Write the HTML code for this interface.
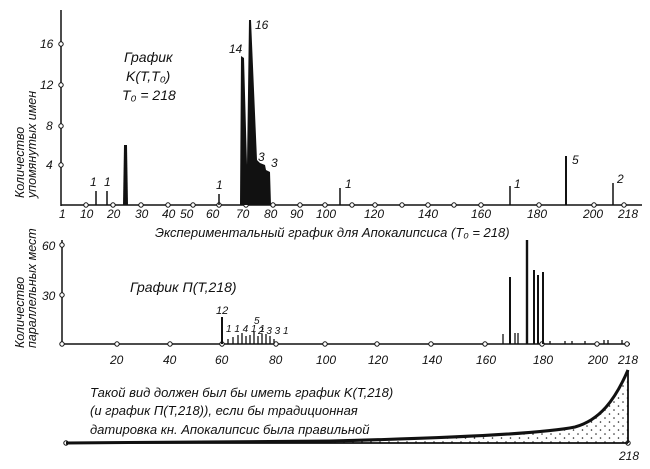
<!DOCTYPE html>
<html><head><meta charset="utf-8"><style>
html,body{margin:0;padding:0;background:#fff;}
svg text{font-family:"Liberation Sans",sans-serif;font-style:italic;fill:#111;}
</style></head><body>
<svg width="650" height="464" viewBox="0 0 650 464" xmlns="http://www.w3.org/2000/svg">
<defs>
<pattern id="dots" width="9" height="8" patternUnits="userSpaceOnUse">
<circle cx="2" cy="2" r="0.8" fill="#222"/><circle cx="6.5" cy="6" r="0.8" fill="#222"/>
</pattern>
</defs>
<g stroke="#111" fill="none" stroke-width="1.5">
<line x1="61" y1="10" x2="61" y2="206"/>
<line x1="61" y1="205" x2="642" y2="205"/>
<line x1="62" y1="240" x2="62" y2="345"/>
<line x1="62" y1="344" x2="630" y2="344"/>
</g>
<g fill="#fff" stroke="#111" stroke-width="1">
<circle cx="61" cy="44" r="2.2"/><circle cx="61" cy="85" r="2.2"/><circle cx="61" cy="126" r="2.2"/><circle cx="61" cy="165" r="2.2"/>
<circle cx="86" cy="205" r="2.2"/><circle cx="113" cy="205" r="2.2"/><circle cx="141" cy="205" r="2.2"/><circle cx="168" cy="205" r="2.2"/><circle cx="193" cy="205" r="2.2"/><circle cx="219" cy="205" r="2.2"/><circle cx="246" cy="205" r="2.2"/><circle cx="273" cy="205" r="2.2"/><circle cx="300" cy="205" r="2.2"/><circle cx="325" cy="205" r="2.2"/><circle cx="352" cy="205" r="2.2"/><circle cx="375" cy="205" r="2.2"/><circle cx="402" cy="205" r="2.2"/><circle cx="428" cy="205" r="2.2"/><circle cx="454" cy="205" r="2.2"/><circle cx="481" cy="205" r="2.2"/><circle cx="539" cy="205" r="2.2"/><circle cx="594" cy="205" r="2.2"/><circle cx="624" cy="205" r="2.2"/>
<circle cx="62" cy="245" r="2.2"/><circle cx="62" cy="295" r="2.2"/><circle cx="62" cy="344" r="2.2"/>
<circle cx="117" cy="344" r="2.2"/><circle cx="170" cy="344" r="2.2"/><circle cx="222" cy="344" r="2.2"/><circle cx="276" cy="344" r="2.2"/><circle cx="325" cy="344" r="2.2"/><circle cx="377" cy="344" r="2.2"/><circle cx="431" cy="344" r="2.2"/><circle cx="485" cy="344" r="2.2"/><circle cx="542" cy="344" r="2.2"/><circle cx="597" cy="344" r="2.2"/><circle cx="627" cy="344" r="2.2"/>
<circle cx="66" cy="443" r="2.2"/><circle cx="628" cy="443" r="2.2"/>
</g>
<g stroke="#111" stroke-width="1.5">
<line x1="96" y1="205" x2="96" y2="191"/><line x1="107" y1="205" x2="107" y2="191"/>
<line x1="219" y1="205" x2="219" y2="194"/>
<line x1="340" y1="205" x2="340" y2="188"/><line x1="510" y1="205" x2="510" y2="186"/>
<line x1="566" y1="205" x2="566" y2="156" stroke-width="2"/><line x1="613" y1="205" x2="613" y2="183"/>
</g>
<polygon points="123,205 124,145 127,145 128,205" fill="#111"/>
<polygon points="240,205 241,56 244,58 247,165 249,20 251,20 257,160 260,163 265,165 266,170 270,172 271,205" fill="#111"/>
<g stroke="#111" stroke-width="1.3">
<line x1="222" y1="344" x2="222" y2="317" stroke-width="2"/>
<line x1="228" y1="344" x2="228" y2="339"/><line x1="233" y1="344" x2="233" y2="337"/><line x1="238" y1="344" x2="238" y2="335"/><line x1="242" y1="344" x2="242" y2="333"/><line x1="246" y1="344" x2="246" y2="336"/><line x1="250" y1="344" x2="250" y2="335"/><line x1="254" y1="344" x2="254" y2="332"/><line x1="258" y1="344" x2="258" y2="336"/><line x1="262" y1="344" x2="262" y2="334"/><line x1="266" y1="344" x2="266" y2="334"/><line x1="270" y1="344" x2="270" y2="336"/><line x1="274" y1="344" x2="274" y2="339"/>
<line x1="503" y1="344" x2="503" y2="334"/><line x1="510" y1="344" x2="510" y2="277" stroke-width="2"/><line x1="515" y1="344" x2="515" y2="333"/><line x1="518" y1="344" x2="518" y2="333"/>
<line x1="527" y1="344" x2="527" y2="240" stroke-width="2.4"/><line x1="534" y1="344" x2="534" y2="270" stroke-width="2"/><line x1="538" y1="344" x2="538" y2="275" stroke-width="2"/><line x1="543" y1="344" x2="543" y2="272" stroke-width="2"/>
<line x1="550" y1="344" x2="550" y2="341"/><line x1="565" y1="344" x2="565" y2="341"/><line x1="572" y1="344" x2="572" y2="341"/><line x1="585" y1="344" x2="585" y2="341"/><line x1="604" y1="344" x2="604" y2="340"/><line x1="608" y1="344" x2="608" y2="340"/><line x1="622" y1="344" x2="622" y2="340"/>
</g>
<path d="M66,443 L330,441 C450,438 540,434 575,427 C600,420 615,400 628,370 L628,443 Z" fill="url(#dots)"/>
<path d="M66,443 L330,441 C450,438 540,434 575,427 C600,420 615,400 628,370" fill="none" stroke="#111" stroke-width="3"/>
<path d="M66,443 L628,443 M628,370 L628,443" stroke="#111" stroke-width="1.8" fill="none"/>
<g font-size="12">
<text x="124" y="62" font-size="14">График</text>
<text x="126" y="81" font-size="14">K(T,T₀)</text>
<text x="122" y="100" font-size="14">T₀ = 218</text>
<text x="40" y="48">16</text><text x="40" y="89">12</text><text x="46" y="130">8</text><text x="46" y="169">4</text>
<text x="229" y="53">14</text><text x="255" y="29">16</text><text x="258" y="161">3</text><text x="271" y="167">3</text>
<text x="90" y="186">1</text><text x="104" y="186">1</text><text x="216" y="189">1</text><text x="345" y="188">1</text><text x="514" y="188">1</text><text x="572" y="164">5</text><text x="617" y="183">2</text>
<text x="59" y="218">1</text><text x="80" y="218">10</text><text x="107" y="218">20</text><text x="135" y="218">30</text><text x="162" y="218">40</text><text x="180" y="218">50</text><text x="206" y="218">60</text><text x="236" y="218">70</text><text x="264" y="218">80</text><text x="290" y="218">90</text><text x="316" y="218">100</text><text x="364" y="218">120</text><text x="418" y="218">140</text><text x="471" y="218">160</text><text x="527" y="218">180</text><text x="583" y="218">200</text><text x="618" y="218">218</text>
<text x="155" y="237" font-size="13">Экспериментальный  график  для  Апокалипсиса (T₀ = 218)</text>
<text transform="translate(24,198) rotate(-90)" font-size="12.5">Количество</text>
<text transform="translate(36,198) rotate(-90)" font-size="12.5">упомянутых имен</text>
<text x="42" y="250">60</text><text x="42" y="300">30</text>
<text x="130" y="292" font-size="14">График П(T,218)</text>
<text x="216" y="314" font-size="11">12</text>
<text x="226" y="332" font-size="10">1 1 4 1 1</text><text x="254" y="324" font-size="10">5</text><text x="258" y="334" font-size="10">2 3 3 1</text>
<text x="110" y="364">20</text><text x="163" y="364">40</text><text x="215" y="364">60</text><text x="269" y="364">80</text><text x="316" y="364">100</text><text x="368" y="364">120</text><text x="422" y="364">140</text><text x="476" y="364">160</text><text x="533" y="364">180</text><text x="588" y="364">200</text><text x="618" y="364">218</text>
<text transform="translate(24,348) rotate(-90)" font-size="12.5">Количество</text>
<text transform="translate(36,348) rotate(-90)" font-size="12.5">параллельных мест</text>
<text x="90" y="397" font-size="13">Такой вид должен был бы иметь график  K(T,218)</text>
<text x="90" y="415" font-size="13">(и график П(T,218)), если бы традиционная</text>
<text x="90" y="434" font-size="13">датировка кн. Апокалипсис была правильной</text>
<text x="619" y="460">218</text>
</g>
</svg>
</body></html>
